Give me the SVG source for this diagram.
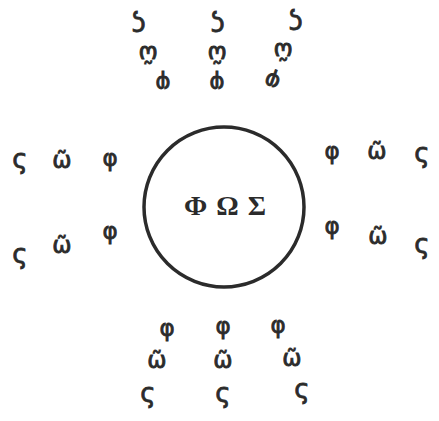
<svg xmlns="http://www.w3.org/2000/svg" width="439" height="421" viewBox="0 0 439 421">
<style>
.g{font-family:"DejaVu Sans","Liberation Sans",sans-serif;font-size:23px;fill:#2b2b2b;stroke:#2b2b2b;stroke-width:0.8px;text-anchor:middle;dominant-baseline:central}
.s{font-size:26px}
.c{font-family:"Liberation Serif","Times New Roman",serif;font-size:28px;font-weight:bold;fill:#2b2b2b;text-anchor:middle;dominant-baseline:central;word-spacing:2px}
</style>
<rect width="439" height="421" fill="#fff"/>
<g id="center">
<circle cx="224" cy="207" r="80" fill="none" stroke="#2b2b2b" stroke-width="3.5"/>
<text class="c" x="225" y="205">Φ Ω Σ</text>
</g>
<g id="top">
<text class="g s" transform="rotate(180 138 26)" x="138" y="26">ς</text>
<text class="g s" transform="rotate(180 217 26)" x="217" y="26">ς</text>
<text class="g s" transform="rotate(180 295 24)" x="295" y="24">ς</text>
<text class="g" transform="rotate(180 148 54)" x="148" y="54">ῶ</text>
<text class="g" transform="rotate(180 217 54)" x="217" y="54">ῶ</text>
<text class="g" transform="rotate(180 283 51)" x="283" y="51">ῶ</text>
<text class="g" transform="rotate(180 163 84)" x="163" y="84">φ</text>
<text class="g" transform="rotate(180 217 84)" x="217" y="84">φ</text>
<text class="g" transform="rotate(200 272 82)" x="272" y="82">φ</text>
</g>
<g id="left">
<text class="g s" x="20" y="159">ς</text>
<text class="g" x="62" y="160">ῶ</text>
<text class="g" x="110" y="158">φ</text>
<text class="g s" x="20" y="254">ς</text>
<text class="g" x="62" y="245">ῶ</text>
<text class="g" x="110" y="231">φ</text>
</g>
<g id="right">
<text class="g" x="332" y="151">φ</text>
<text class="g" x="377" y="151">ῶ</text>
<text class="g s" x="422" y="153">ς</text>
<text class="g" x="332" y="226">φ</text>
<text class="g" x="378" y="236">ῶ</text>
<text class="g s" x="422" y="244">ς</text>
</g>
<g id="bottom">
<text class="g" x="167" y="328">φ</text>
<text class="g" x="223" y="326">φ</text>
<text class="g" x="278" y="325">φ</text>
<text class="g" x="157" y="360">ῶ</text>
<text class="g" x="223" y="360">ῶ</text>
<text class="g" x="292" y="358">ῶ</text>
<text class="g s" x="148" y="393">ς</text>
<text class="g s" x="223" y="393">ς</text>
<text class="g s" x="302" y="389">ς</text>
</g>
<g id="connectors"/>
</svg>
